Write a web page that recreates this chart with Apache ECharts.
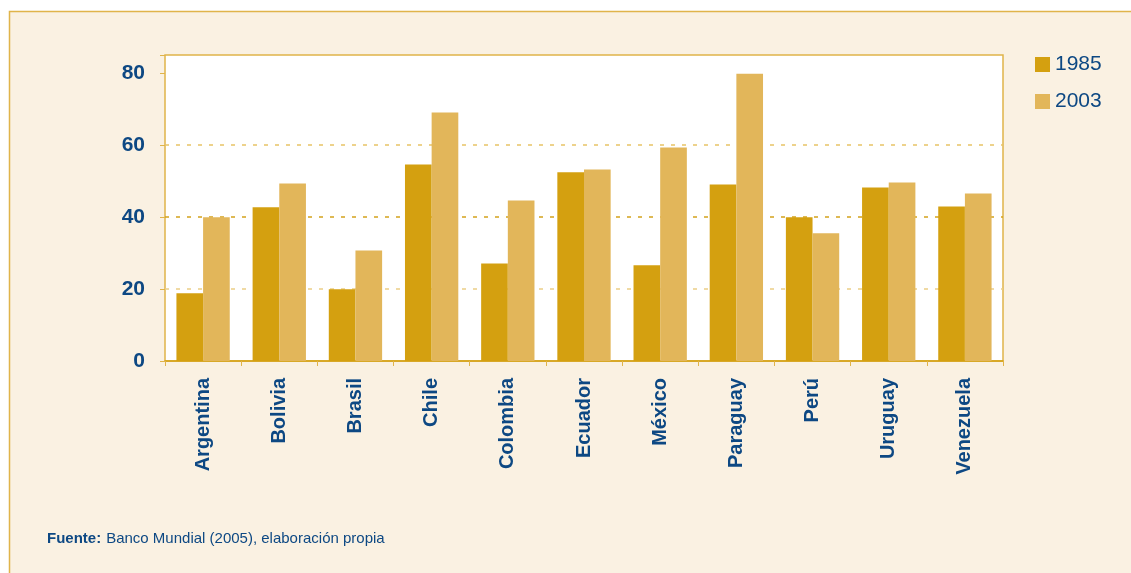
<!DOCTYPE html>
<html>
<head>
<meta charset="utf-8" />
<script src="https://cdn.jsdelivr.net/npm/echarts@6/dist/echarts.min.js"></script>
<style>
  html, body { margin: 0; padding: 0; background: #fff; }
  #main { width: 1131px; height: 573px; }
</style>
</head>
<body>
<div id="main"></div>
<script>
// países
var paises = ["Argentina", "Bolivia", "Brasil", "Chile", "Colombia", "Ecuador",
  "México", "Paraguay", "Perú", "Uruguay", "Venezuela"];
var nombres = ["1985", "2003"];
var valores1985 = [18.8, 42.7, 19.9, 54.6, 27.1, 52.4, 26.6, 49.0, 39.9, 48.2, 42.9];
var valores2003 = [39.9, 49.3, 30.7, 69.0, 44.6, 53.2, 59.3, 79.8, 35.5, 49.6, 46.5];
var yTicks = [0, 20, 40, 60, 80];

var azul = "#0d4883";
var oro = "#d4a010";
var oroClaro = "#e2b65a";
var borde = "#e0b44a";

var myChart = echarts.init(document.getElementById("main"));

var option = {
  backgroundColor: "#fff",
  animation: false,
  textStyle: { fontFamily: "'Liberation Sans', Arial, sans-serif" },
  graphic: [
    {
      type: "rect",
      z: -10,
      silent: true,
      shape: { x: 9.5, y: 11.5, width: 1400, height: 800 },
      style: { fill: "#faf1e2", stroke: borde, lineWidth: 1.5 }
    }
  ],
  title: {
    left: 47,
    top: 530,
    padding: 0,
    text: "{b|Fuente:} {r|Banco Mundial (2005), elaboración propia}",
    textStyle: {
      fontWeight: "normal",
      rich: {
        b: { fontSize: 15, fontWeight: "bold", color: azul },
        r: { fontSize: 15, fontWeight: "normal", color: azul }
      }
    }
  },
  legend: {
    orient: "vertical",
    left: 1035,
    top: 54,
    padding: 0,
    icon: "rect",
    itemWidth: 15,
    itemHeight: 15,
    itemGap: 16,
    data: nombres,
    textStyle: { fontSize: 21, color: azul }
  },
  grid: {
    left: 165,
    right: 128,
    top: 55,
    bottom: 212,
    show: true,
    backgroundColor: "#fff",
    borderColor: borde,
    borderWidth: 1.5
  },
  xAxis: {
    type: "category",
    data: paises,
    axisLine: { lineStyle: { color: oro, width: 1.5 } },
    axisTick: { show: true, length: 5, lineStyle: { color: borde } },
    axisLabel: {
      rotate: 90,
      margin: 17,
      fontSize: 20,
      fontWeight: "bold",
      color: azul,
      interval: 0
    }
  },
  yAxis: {
    type: "value",
    min: 0,
    max: 85,
    interval: 20,
    axisLine: { show: false },
    axisTick: { show: true, length: 5, lineStyle: { color: borde } },
    axisLabel: {
      margin: 20,
      fontSize: 21,
      fontWeight: "bold",
      color: azul,
      formatter: function(v) {
        return yTicks.indexOf(v) >= 0 ? v : "";
      }
    },
    splitLine: {
      show: true,
      lineStyle: {
        // 0, 20, 40, 60, 80, 85
        color: ["transparent", "#ecce86", "#d4a31c", "#e8c466", "transparent", "transparent"],
        type: [4, 7],
        width: 1.5
      }
    }
  },
  series: [
    {
      name: nombres[0],
      type: "bar",
      data: valores1985,
      barGap: "0%",
      barCategoryGap: "30%",
      itemStyle: { color: oro }
    },
    {
      name: nombres[1],
      type: "bar",
      data: valores2003,
      barGap: "0%",
      barCategoryGap: "30%",
      itemStyle: { color: oroClaro }
    }
  ]
};

myChart.setOption(option);
</script>
</body>
</html>
